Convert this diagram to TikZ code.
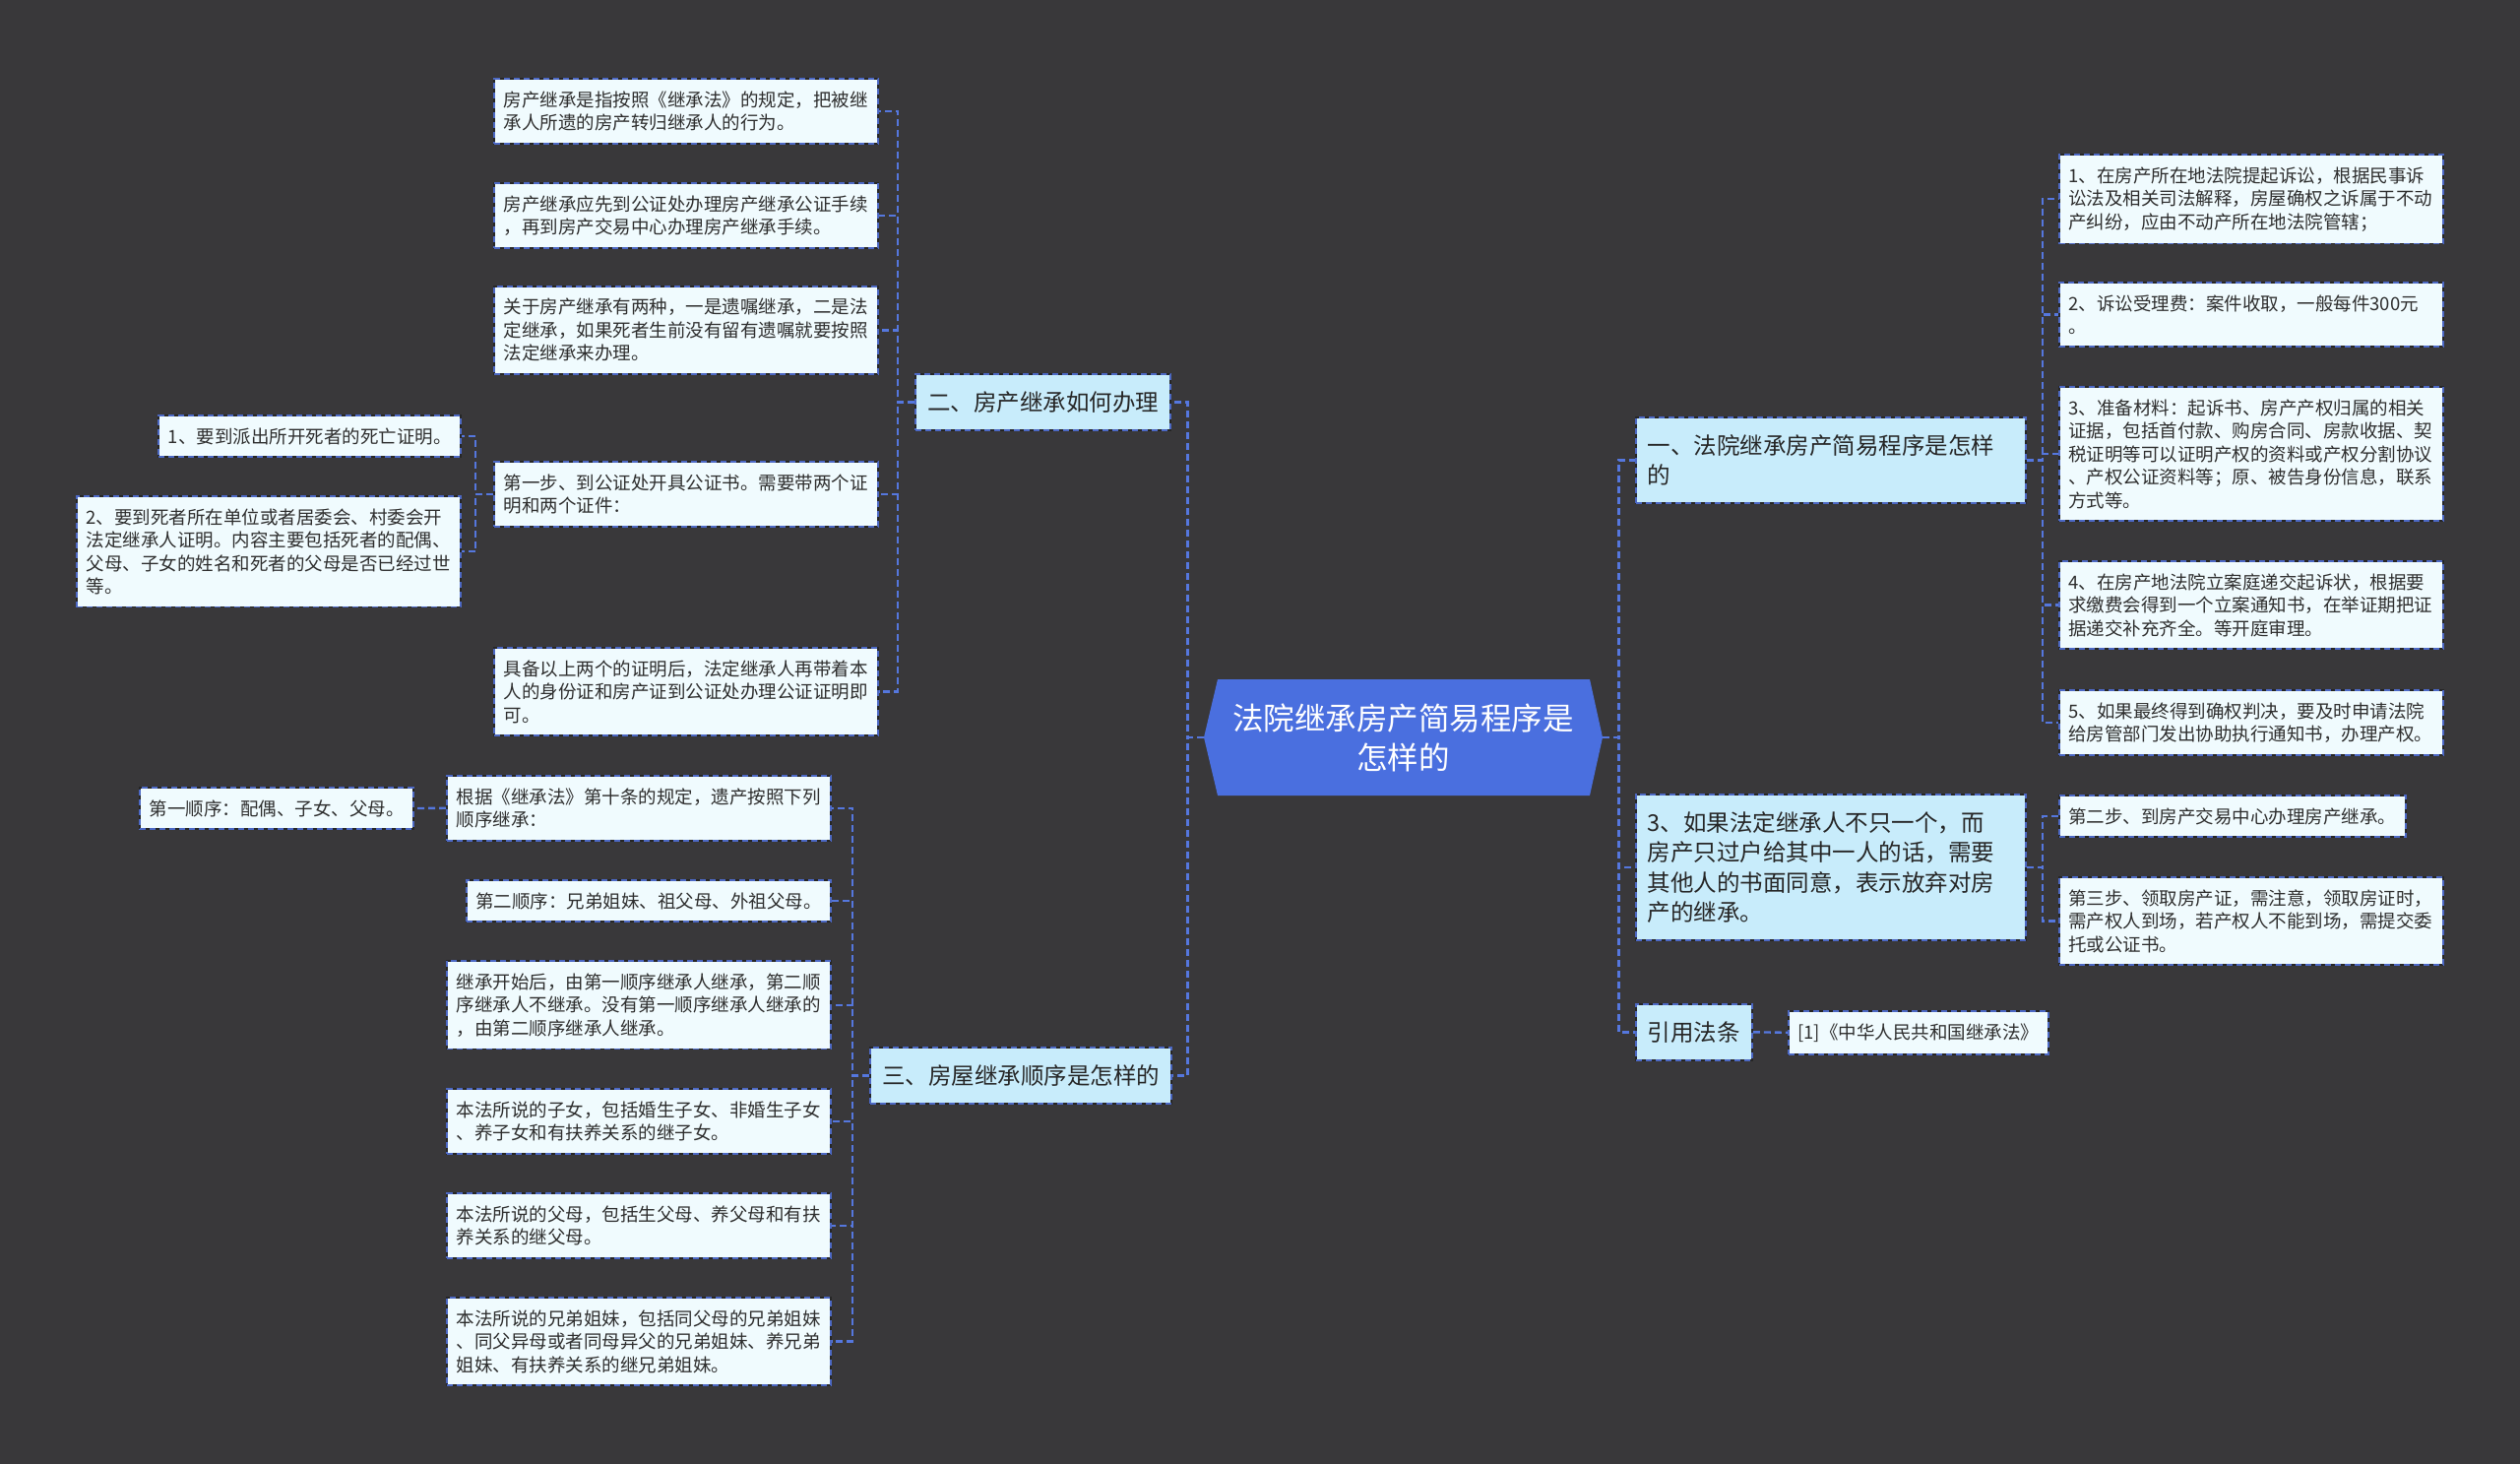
\documentclass[tikz,border=0pt]{standalone}
\usepackage{fontspec}
\setmainfont{Noto Sans CJK SC}
\definecolor{bgdark}{HTML}{39383A}
\definecolor{leaffill}{HTML}{F0FBFE}
\definecolor{topicfill}{HTML}{C8ECFB}
\definecolor{rootblue}{HTML}{4A6FDF}
\definecolor{linkblue}{HTML}{5577DE}
\definecolor{edgeblue}{HTML}{4C68C4}
\definecolor{inktext}{HTML}{2E2E2E}
\begin{document}
\begin{tikzpicture}[x=0.5pt,y=-0.5pt,
	framed/.style={draw=black!85,line width=0.9pt,postaction={draw=edgeblue,dash pattern=on 3pt off 2pt}},
	leafbox/.style={framed,fill=leaffill,text=inktext,inner xsep=4.75pt,inner ysep=6.25pt,font=\fontsize{9.25pt}{11.75pt}\selectfont},
	leafpar/.style={leafbox,text width=185.5pt,align=left},
	topicbox/.style={framed,fill=topicfill,text=black!85,inner xsep=6pt,inner ysep=8.75pt,font=\fontsize{11.75pt}{15.25pt}\selectfont},
	topicpar/.style={topicbox,text width=186pt,align=left},
	link/.style={draw=linkblue,line width=1.2pt,dash pattern=on 3.5pt off 2pt}]
	\useasboundingbox (0,0) rectangle (2560,1487);
	\fill[bgdark] (0,0) rectangle (2560,1487);
	\fill[rootblue] (1223,749)--(1237,690)--(1615,690)--(1628,749)--(1615,808)--(1237,808)--cycle;
	\node[text=white,align=center,font=\fontsize{15.75pt}{20pt}\selectfont,minimum width=202.5pt,minimum height=59pt,inner sep=0pt] (root) at (1425.5,749) {法院继承房产简易程序是\\怎样的};
	\node[topicpar,anchor=north west] (court) at (1661,423) {一、法院继承房产简易程序是怎样\\的};
	\node[topicpar,anchor=north west] (heirs) at (1661,806) {3、如果法定继承人不只一个，而\\房产只过户给其中一人的话，需要\\其他人的书面同意，表示放弃对房\\产的继承。};
	\node[topicbox,anchor=north west] (cite) at (1661,1019) {引用法条};
	\node[topicbox,anchor=north east] (howto) at (1190,379) {二、房产继承如何办理};
	\node[topicbox,anchor=north east] (order) at (1191,1063) {三、房屋继承顺序是怎样的};
	\node[leafpar,anchor=north west] (court1) at (2091,156) {1、在房产所在地法院提起诉讼，根据民事诉\\讼法及相关司法解释，房屋确权之诉属于不动\\产纠纷，应由不动产所在地法院管辖；};
	\node[leafpar,anchor=north west] (court2) at (2091,286) {2、诉讼受理费：案件收取，一般每件300元\\。};
	\node[leafpar,anchor=north west] (court3) at (2091,392) {3、准备材料：起诉书、房产产权归属的相关\\证据，包括首付款、购房合同、房款收据、契\\税证明等可以证明产权的资料或产权分割协议\\、产权公证资料等；原、被告身份信息，联系\\方式等。};
	\node[leafpar,anchor=north west] (court4) at (2091,569) {4、在房产地法院立案庭递交起诉状，根据要\\求缴费会得到一个立案通知书，在举证期把证\\据递交补充齐全。等开庭审理。};
	\node[leafpar,anchor=north west] (court5) at (2091,700) {5、如果最终得到确权判决，要及时申请法院\\给房管部门发出协助执行通知书，办理产权。};
	\node[leafbox,anchor=north west] (step2) at (2091,807) {第二步、到房产交易中心办理房产继承。};
	\node[leafpar,anchor=north west] (step3) at (2091,890) {第三步、领取房产证，需注意，领取房证时，\\需产权人到场，若产权人不能到场，需提交委\\托或公证书。};
	\node[leafbox,anchor=north west] (law) at (1816,1026) {[1]《中华人民共和国继承法》};
	\node[leafpar,anchor=north east] (how1) at (893,79) {房产继承是指按照《继承法》的规定，把被继\\承人所遗的房产转归继承人的行为。};
	\node[leafpar,anchor=north east] (how2) at (893,185) {房产继承应先到公证处办理房产继承公证手续\\，再到房产交易中心办理房产继承手续。};
	\node[leafpar,anchor=north east] (how3) at (893,290) {关于房产继承有两种，一是遗嘱继承，二是法\\定继承，如果死者生前没有留有遗嘱就要按照\\法定继承来办理。};
	\node[leafpar,anchor=north east] (step1) at (893,468) {第一步、到公证处开具公证书。需要带两个证\\明和两个证件：};
	\node[leafpar,anchor=north east] (how5) at (893,657) {具备以上两个的证明后，法定继承人再带着本\\人的身份证和房产证到公证处办理公证证明即\\可。};
	\node[leafbox,anchor=north east] (paper1) at (469,421) {1、要到派出所开死者的死亡证明。};
	\node[leafpar,anchor=north east] (paper2) at (469,503) {2、要到死者所在单位或者居委会、村委会开\\法定继承人证明。内容主要包括死者的配偶、\\父母、子女的姓名和死者的父母是否已经过世\\等。};
	\node[leafpar,anchor=north east] (ord1) at (845,787) {根据《继承法》第十条的规定，遗产按照下列\\顺序继承：};
	\node[leafbox,anchor=north east] (first) at (421,799) {第一顺序：配偶、子女、父母。};
	\node[leafbox,anchor=north east] (ord2) at (845,893) {第二顺序：兄弟姐妹、祖父母、外祖父母。};
	\node[leafpar,anchor=north east] (ord3) at (845,975) {继承开始后，由第一顺序继承人继承，第二顺\\序继承人不继承。没有第一顺序继承人继承的\\，由第二顺序继承人继承。};
	\node[leafpar,anchor=north east] (ord4) at (845,1105) {本法所说的子女，包括婚生子女、非婚生子女\\、养子女和有扶养关系的继子女。};
	\node[leafpar,anchor=north east] (ord5) at (845,1211) {本法所说的父母，包括生父母、养父母和有扶\\养关系的继父母。};
	\node[leafpar,anchor=north east] (ord6) at (845,1317) {本法所说的兄弟姐妹，包括同父母的兄弟姐妹\\、同父异母或者同母异父的兄弟姐妹、养兄弟\\姐妹、有扶养关系的继兄弟姐妹。};
	\foreach \kid in {court,heirs,cite} \draw[link] (root.east)--++(16,0) |- (\kid.west);
	\foreach \kid in {howto,order} \draw[link] (root.west)--++(-16,0) |- (\kid.east);
	\foreach \kid in {court1,court2,court3,court4,court5} \draw[link] (court.east)--++(16,0) |- (\kid.west);
	\foreach \kid in {step2,step3} \draw[link] (heirs.east)--++(16,0) |- (\kid.west);
	\draw[link] (cite.east)--(law.west);
	\foreach \kid in {how1,how2,how3,step1,how5} \draw[link] (howto.west)--++(-17,0) |- (\kid.east);
	\foreach \kid in {paper1,paper2} \draw[link] (step1.west)--++(-18,0) |- (\kid.east);
	\foreach \kid in {ord1,ord2,ord3,ord4,ord5,ord6} \draw[link] (order.west)--++(-17,0) |- (\kid.east);
	\draw[link] (ord1.west)--(first.east);
\end{tikzpicture}
\end{document}
